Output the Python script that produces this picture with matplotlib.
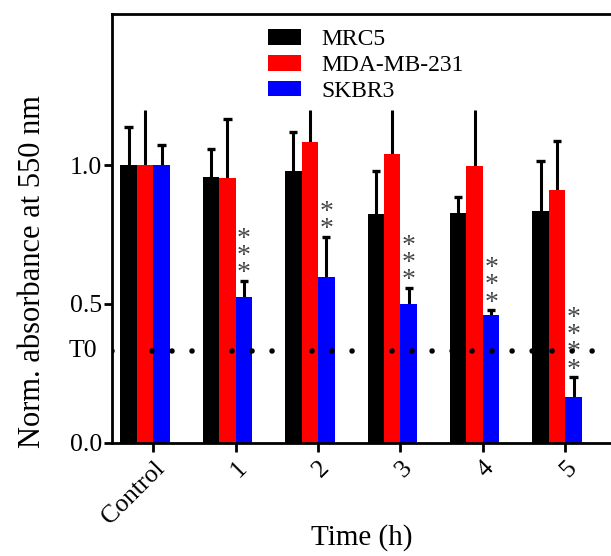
"""Normalised absorbance at 550 nm over time for three cell lines (grouped bars)."""

import numpy as np
import matplotlib.pyplot as plt

SERIF = "Liberation Serif"

# ---------------------------------------------------------------------------
# Data
# ---------------------------------------------------------------------------
groups = ["Control", "1", "2", "3", "4", "5"]
series = ["MRC5", "MDA-MB-231", "SKBR3"]

mrc5_mean = [1.00, 0.956, 0.979, 0.822, 0.828, 0.836]
mrc5_sd = [0.138, 0.100, 0.141, 0.157, 0.058, 0.179]

mda_mean = [1.00, 0.952, 1.084, 1.039, 0.996, 0.909]
mda_sd = [0.25, 0.214, 0.20, 0.22, 0.25, 0.178]

skbr3_mean = [1.00, 0.526, 0.598, 0.500, 0.460, 0.166]
skbr3_sd = [0.074, 0.057, 0.144, 0.058, 0.018, 0.070]

# significance stars over SKBR3 bars (count per group)
skbr3_stars = [0, 3, 2, 3, 3, 4]

t0_level = 0.330
err_clip = 1.20   # error bars are cut off (no cap) at this level

colors = ["#000000", "#FF0000", "#0000FF"]


def main():
    fig = plt.figure(figsize=(6.11, 5.56), dpi=100)
    ax = fig.add_axes([0.1828, 0.2038, 0.8172, 0.771])

    x = np.arange(len(groups))
    width = 0.2
    offsets = [-0.4, -0.2, 0.0]
    means = [mrc5_mean, mda_mean, skbr3_mean]
    sds = [mrc5_sd, mda_sd, skbr3_sd]

    for name, m, s, off, col in zip(series, means, sds, offsets, colors):
        m = np.asarray(m)
        top = m + np.asarray(s)
        xc = x + off + width / 2
        ax.bar(x + off, m, width=width, align="edge", color=col,
               edgecolor="none", label=name, zorder=2)
        shown = np.minimum(top, err_clip)
        ax.vlines(xc, m, shown, color="black", lw=2.2, zorder=1)
        capped = top < err_clip
        ax.hlines(top[capped], xc[capped] - 0.05, xc[capped] + 0.05,
                  color="black", lw=2.4, zorder=1)

    # significance stars
    sk_top = np.asarray(skbr3_mean) + np.asarray(skbr3_sd)
    for i, n in enumerate(skbr3_stars):
        if n == 0:
            continue
        ax.annotate("\n".join(["*"] * n),
                    xy=(x[i] + offsets[2] + width / 2, sk_top[i]),
                    xytext=(0, -4), textcoords="offset points",
                    ha="center", va="bottom", fontsize=20, family=SERIF,
                    color="#454545", linespacing=0.6)

    # T0 reference line
    ax.axhline(t0_level, color="black", lw=4.0,
               linestyle=(0, (0.001, 3.6)), dash_capstyle="round",
               zorder=3)

    ax.set_xlim(-0.505, 5.555)
    ax.set_ylim(0, 1.544)

    ax.set_yticks([0.0, 0.5, 1.0])
    ax.set_yticklabels(["0.0", "0.5", "1.0"])
    ax.text(-0.029, t0_level, "T0", transform=ax.get_yaxis_transform(),
            ha="right", va="center", fontsize=18.5, family=SERIF)

    ax.set_xticks(x)
    ax.set_xticklabels(groups, rotation=45, ha="right",
                       rotation_mode="anchor")

    for lab in ax.get_xticklabels() + ax.get_yticklabels():
        lab.set_family(SERIF)
        lab.set_fontsize(18.5)

    ax.tick_params(axis="y", direction="out", length=6, width=2, pad=1)
    ax.tick_params(axis="x", direction="out", length=6.5, width=2, pad=4)

    for side in ["left", "bottom", "top"]:
        ax.spines[side].set_linewidth(2.0)
    ax.spines["right"].set_visible(False)

    ax.set_ylabel("Norm. absorbance at 550 nm", family=SERIF, fontsize=22)
    ax.yaxis.set_label_coords(-0.13, 0.40)
    ax.set_xlabel("Time (h)", family=SERIF, fontsize=21, labelpad=-3)

    ax.legend(loc="upper left", bbox_to_anchor=(0.3136, 0.964),
              frameon=False, prop={"family": SERIF, "size": 17},
              handlelength=1.4, handleheight=0.62,
              handletextpad=0.85, labelspacing=0.2,
              borderaxespad=0.0, borderpad=0.0)

    fig.savefig("out.png", dpi=100, facecolor="white")
    plt.close(fig)


if __name__ == "__main__":
    main()
